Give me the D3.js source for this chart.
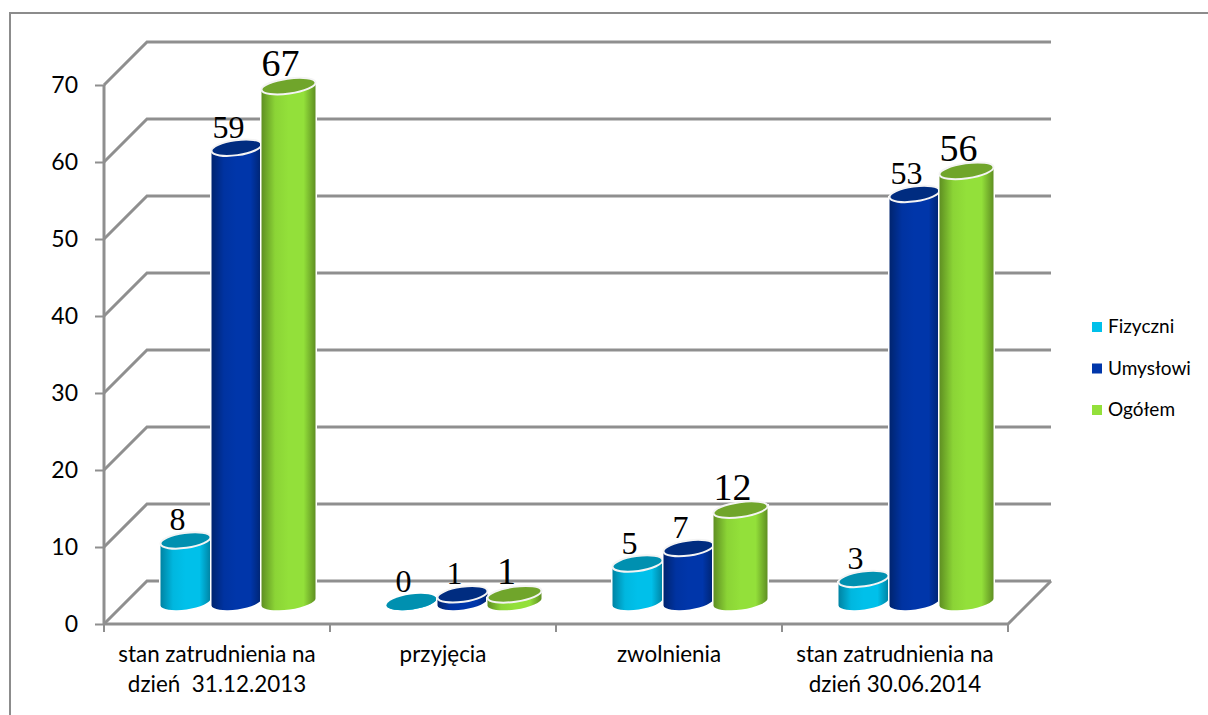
<!DOCTYPE html>
<html>
<head>
<meta charset="utf-8">
<script src="https://cdnjs.cloudflare.com/ajax/libs/d3/7.8.5/d3.min.js"></script>
<style>
  html, body { margin: 0; padding: 0; background: #fff; }
  svg { display: block; }
</style>
</head>
<body>
<div class="container"></div>
<script>
// Chart data
const categories = ["stan zatrudnienia na|dzień  31.12.2013", "przyjęcia", "zwolnienia", "stan zatrudnienia na|dzień 30.06.2014"];
const seriesNames = ["Fizyczni", "Umysłowi", "Ogółem"];
const fizyczni = [8, 0, 5, 3];
const umyslowi = [59, 1, 7, 53];
const ogolem = [67, 1, 12, 56];
const yTicks = [0, 10, 20, 30, 40, 50, 60, 70];
const seriesValues = [fizyczni, umyslowi, ogolem];

const width = 1208;
const height = 715;

// Colors for each series: body edge, body middle, top of the cylinder
const bodyEdge = ["#0083a3", "#00246f", "#5f8f22"];
const bodyMid = ["#00c0ea", "#0036aa", "#93e03a"];
const topColor = ["#0090b0", "#002c80", "#70a52b"];
const barWidth = [50, 50, 54];
const labelSize = [32, 32, 38];

const depth = 43;
const frontBottom = 624;
const baseShift = 19.5; // bars stand in the middle of the floor

const x = d3.scaleBand().domain(categories).range([104, 1008]);
const y = d3.scaleLinear().domain([0, 70]).range([frontBottom, 85]);
// position of a bar inside its group
const inner = d3.scaleBand().domain(d3.range(3)).range([-76.5, 76.5]);

const svg = d3.select(".container").append("svg")
    .attr("width", width)
    .attr("height", height);

const defs = svg.append("defs");

bodyMid.forEach(function(c, i) {
  const g = defs.append("linearGradient").attr("id", "body" + i);
  g.append("stop").attr("offset", "0%").attr("stop-color", bodyEdge[i]);
  g.append("stop").attr("offset", "25%").attr("stop-color", d3.interpolateRgb(bodyEdge[i], c)(0.85));
  g.append("stop").attr("offset", "50%").attr("stop-color", c);
  g.append("stop").attr("offset", "78%").attr("stop-color", c);
  g.append("stop").attr("offset", "100%").attr("stop-color", bodyEdge[i]);
});

// Outer frame
svg.append("rect")
    .attr("x", 10).attr("y", 13)
    .attr("width", 1300).attr("height", 800)
    .attr("fill", "none")
    .attr("stroke", "#8c8c8c")
    .attr("stroke-width", 2);

const gridColor = "#8f8f8f";

// Back wall and side wall grid lines
const grid = svg.append("g").attr("class", "grid")
    .attr("stroke", gridColor).attr("stroke-width", 3).attr("fill", "none");

grid.selectAll("path")
  .data(yTicks)
  .enter().append("path")
    .attr("d", d => d3.line()([[104, y(d)], [104 + depth, y(d) - depth], [1008 + depth, y(d) - depth]]));

// Right edge of the floor and the front axis
grid.append("path")
    .attr("d", d3.line()([[104, y(0)], [1008, y(0)], [1008 + depth, y(0) - depth]]));

// y axis
const yAxis = svg.append("g")
    .attr("transform", "translate(104,0)")
    .call(d3.axisLeft(y).tickValues(yTicks).tickSize(9).tickPadding(17));
yAxis.select(".domain").attr("stroke", gridColor).attr("stroke-width", 3).attr("d", d3.line()([[0, y(70)], [0, y(0)]]));
yAxis.selectAll(".tick line").attr("stroke", gridColor).attr("stroke-width", 2);
yAxis.selectAll("text")
    .attr("font-family", "Lato")
    .attr("font-size", 23)
    .attr("fill", "#000");

// x axis ticks
const xTicks = categories.map(c => x(c)).concat([1008]);
svg.append("g").selectAll("line")
  .data(xTicks)
  .enter().append("line")
    .attr("x1", d => d).attr("x2", d => d)
    .attr("y1", frontBottom).attr("y2", frontBottom + 8)
    .attr("stroke", gridColor).attr("stroke-width", 2);

// Category labels
const catText = svg.append("g").selectAll("text")
  .data(categories)
  .enter().append("text")
    .attr("text-anchor", "middle")
    .attr("font-family", "Lato")
    .attr("font-size", 22.4)
    .attr("fill", "#000")
    .style("white-space", "pre");

catText.each(function(c) {
  const lines = c.split("|");
  d3.select(this).selectAll("tspan")
    .data(lines)
    .enter().append("tspan")
      .attr("x", x(c) + x.bandwidth() / 2)
      .attr("y", (d, i) => 662 + i * 30)
      .text(d => d);
});

// Half height of the tilted ellipse is ry; width comes from the bar
const ry = 7.5;
const tilt = -8;
const tiltRad = tilt * Math.PI / 180;

function cylinderPath(cx, w, yTop, yBase) {
  const hw = w / 2;
  const rx = hw / Math.cos(tiltRad);
  const dy = hw * Math.tan(tiltRad);
  return `M${cx - hw},${yTop - dy}` +
    `L${cx - hw},${yBase - dy}` +
    `A${rx},${ry} ${tilt} 0 0 ${cx + hw},${yBase + dy}` +
    `L${cx + hw},${yTop + dy}Z`;
}

const bars = [];
categories.forEach(function(c, ci) {
  seriesValues.forEach(function(vals, si) {
    bars.push({
      cat: c, si: si, value: vals[ci],
      cx: x(c) + x.bandwidth() / 2 + baseShift + inner(si) + inner.bandwidth() / 2 + (si == 2 ? 1 : 0),
      w: barWidth[si]
    });
  });
});

const barG = svg.append("g").selectAll("g")
  .data(bars)
  .enter().append("g");

// White halo behind each bar
barG.append("path")
    .attr("d", d => cylinderPath(d.cx, d.w, y(d.value) - 22, y(0) - 22))
    .attr("fill", "#fff")
    .attr("stroke", "#fff")
    .attr("stroke-width", 3);

barG.append("path")
    .attr("d", d => cylinderPath(d.cx, d.w, y(d.value) - 22, y(0) - 22))
    .attr("fill", d => `url(#body${d.si})`);

barG.append("ellipse")
    .attr("transform", d => `translate(${d.cx},${y(d.value) - 22}) rotate(${tilt})`)
    .attr("rx", d => d.w / 2 / Math.cos(tiltRad))
    .attr("ry", ry)
    .attr("fill", d => topColor[d.si])
    .attr("stroke", d => d.value > 0 ? "#f4f4f4" : "none")
    .attr("stroke-width", 2);

// Value labels
svg.append("g").selectAll("text")
  .data(bars)
  .enter().append("text")
    .attr("x", d => d.cx - 8)
    .attr("y", d => y(d.value) - 22 - 10)
    .attr("text-anchor", "middle")
    .attr("font-family", "Liberation Serif")
    .attr("font-size", d => labelSize[d.si])
    .attr("fill", "#000")
    .text(d => d.value);

// Legend
const legendY = d3.scalePoint().domain(seriesNames).range([327, 410]);
const legend = svg.append("g").selectAll("g")
  .data(seriesNames)
  .enter().append("g")
    .attr("transform", d => `translate(1092,${legendY(d)})`);

legend.append("rect")
    .attr("x", 0).attr("y", -5)
    .attr("width", 10).attr("height", 10)
    .attr("fill", (d, i) => bodyMid[i]);

legend.append("text")
    .attr("x", 16).attr("y", 6)
    .attr("font-family", "Lato")
    .attr("font-size", 19)
    .attr("fill", "#000")
    .text(d => d);
</script>
</body>
</html>
